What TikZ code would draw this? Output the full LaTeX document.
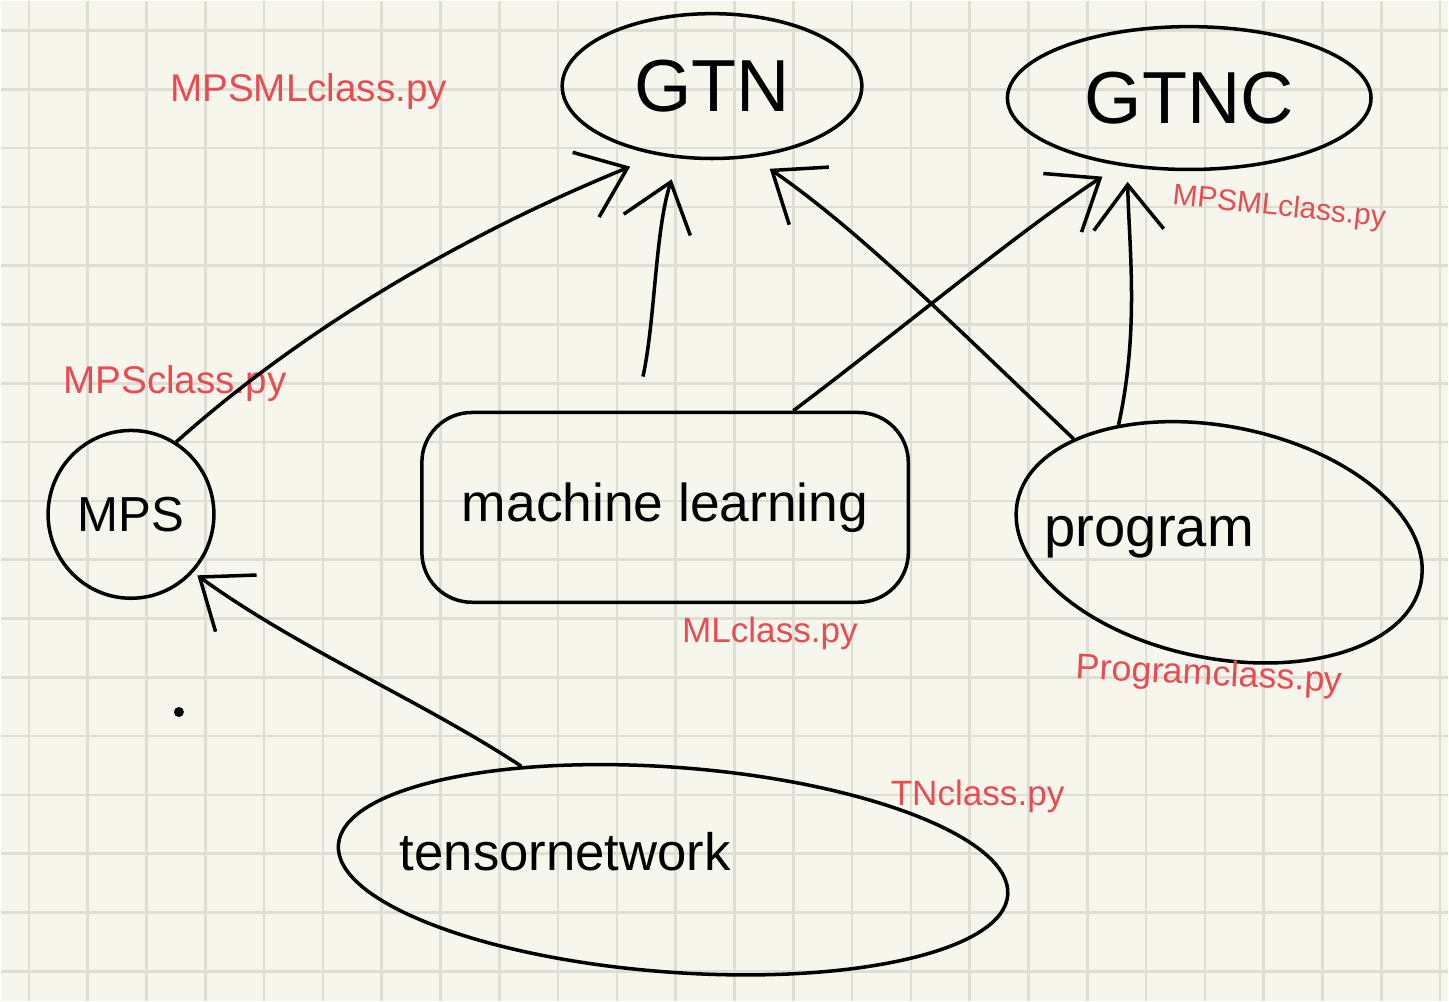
\documentclass[tikz,border=0pt]{standalone}
\usepackage{fontspec}
\setmainfont{Liberation Sans}
\usepackage{tikz}
\usetikzlibrary{shapes.geometric,arrows.meta,positioning}
\definecolor{paper}{RGB}{246,246,236}
\definecolor{gridgray}{RGB}{223,222,211}
\definecolor{pen}{RGB}{232,76,82}

\begin{document}
\begin{tikzpicture}[x=0.01cm, y=-0.01cm]
	\tikzstyle{Blob}	= [ellipse, draw, line width=1pt, inner sep=0pt]
	\tikzstyle{Box}		= [rectangle, rounded corners=0.5cm, draw, line width=1pt, inner sep=0pt]
	\tikzstyle{Word}	= [font=\fontsize{16}{19}\selectfont]
	\tikzstyle{Big}		= [font=\fontsize{21}{25}\selectfont]
	\tikzstyle{File}	= [text=pen, font=\fontsize{10}{12}\selectfont, inner sep=0pt]
	\tikzstyle{Uses}	= [line width=1pt, -{Straight Barb[length=4.5mm, width=7mm]}]
	\tikzstyle{Grid}	= [gridgray, line width=0.7pt]

	% squared paper
	\fill [paper] (0,0) rectangle (1449,1001);
	\foreach \i in {0,...,24} \draw [Grid] (27.7+58.9*\i,0) -- (27.7+58.9*\i,1001);
	\foreach \j in {0,...,16} \draw [Grid] (0,29.3+58.9*\j) -- (1449,29.3+58.9*\j);
	\useasboundingbox (0,0) rectangle (1449,1001);

	\node (gtn) at (712,85) [Blob, minimum width=3cm, minimum height=1.45cm][Big] {GTN};
	\node (gtnc) at (1190,97) [Blob, minimum width=3.64cm, minimum height=1.43cm][Big] {GTNC};
	\node (mps) at (130,514) [Blob, minimum width=1.66cm, minimum height=1.68cm, font=\fontsize{14}{17}\selectfont] {MPS};
	\node (ml) at (665,507) [Box, minimum width=4.87cm, minimum height=1.9cm][Word, font=\fontsize{15.2}{18}\selectfont] {machine learning};
	\node (prog) at (1220,542) [Blob, minimum width=4.12cm, minimum height=2.32cm, rotate=-11.4] {};
	\node (progtext) at (1150,537) [Word] {program};
	\node (tn) at (673,870) [Blob, minimum width=6.72cm, minimum height=2.05cm, rotate=-4.3] {};
	\node (tntext) at (565,852) [Word, font=\fontsize{15}{18}\selectfont] {tensornetwork};
	\node (dot) at (178,712) [circle, fill, inner sep=0pt, minimum size=1mm] {};

	% which file goes with which part
	\node (f1) at (308,90) [File, font=\fontsize{11}{13}\selectfont] {MPSMLclass.py};
	\node (f2) at (174,383) [File, font=\fontsize{11}{13}\selectfont] {MPSclass.py};
	\node (f3) at (1280,207) [File, font=\fontsize{8.5}{10}\selectfont, rotate=-6] {MPSMLclass.py};
	\node (f4) at (770,633) [File] {MLclass.py};
	\node (f5) at (1210,676) [File, font=\fontsize{10.2}{12}\selectfont, rotate=-3] {Programclass.py};
	\node (f6) at (978,797) [File] {TNclass.py};

	\draw [Uses, shorten >=0.3cm] (mps.58) .. controls (300,330) and (460,235) .. (gtn.232);
	\draw [Uses, shorten <=0.35cm, shorten >=0.22cm] (ml.107) .. controls (655,320) and (655,230) .. (gtn.245);
	\draw [Uses, shorten >=0.2cm] (prog.156) .. controls (960,330) and (860,230) .. (gtn.300);
	\draw [Uses, shorten >=0.2cm] (ml.37) .. controls (900,330) and (1020,230) .. (gtnc.224);
	\draw [Uses, shorten >=0.15cm] (prog.142) .. controls (1140,330) and (1130,250) .. (gtnc.228);
	\draw [Uses, shorten >=0.05cm] (tn.150) .. controls (420,700) and (300,650) .. (mps.317);
\end{tikzpicture}
\end{document}
